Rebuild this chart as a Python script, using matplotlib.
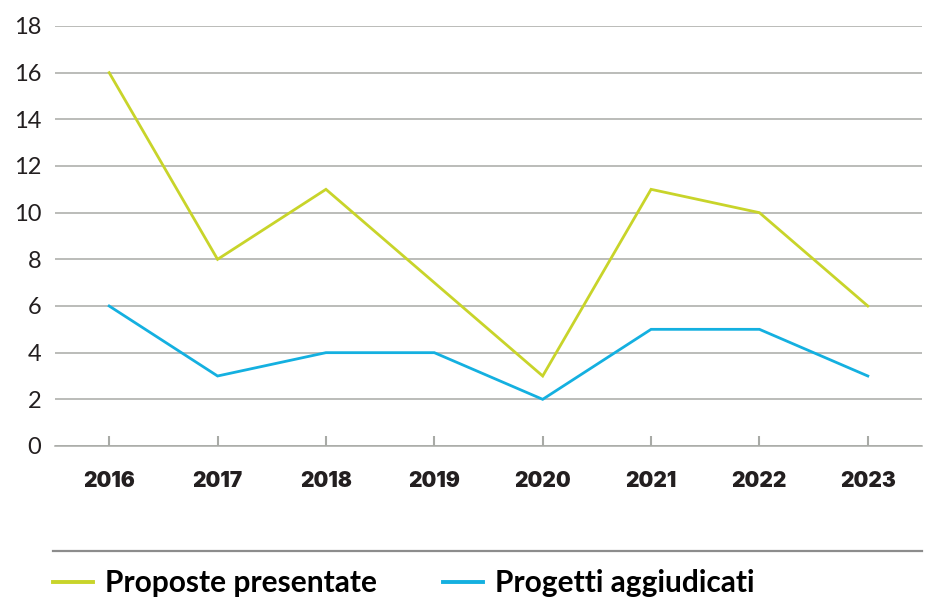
import numpy as np
import matplotlib.pyplot as plt
from matplotlib.lines import Line2D

years = ['2016', '2017', '2018', '2019', '2020', '2021', '2022', '2023']
proposte = [16, 8, 11, 7, 3, 11, 10, 6]
progetti = [6, 3, 4, 4, 2, 5, 5, 3]
series_labels = ['Proposte presentate', 'Progetti aggiudicati']
y_ticks = [0, 2, 4, 6, 8, 10, 12, 14, 16, 18]

green = '#c8d42a'
blue = '#14b0e0'
grid_grey = '#a8aaa6'
text_dark = '#231f20'

plt.rcParams['font.family'] = ['Lato', 'DejaVu Sans']

fig = plt.figure(figsize=(9.28, 5.99), dpi=100)
ax = fig.add_axes([55/928, 1 - 446/599, (922-55)/928, (446-26)/599])

x = np.arange(len(years))
ax.plot(x, proposte, color=green, linewidth=2.0, solid_joinstyle='miter')
ax.plot(x, progetti, color=blue, linewidth=2.0, solid_joinstyle='miter')

ax.set_xlim(-0.5, len(years) - 0.5)
ax.set_ylim(0, 18)
ax.set_yticks(y_ticks)
ax.set_yticklabels([str(v) for v in y_ticks], fontsize=17, color=text_dark)
ax.set_xticks(x)
ax.set_xticklabels(years, fontsize=15, fontweight='black', color=text_dark,
                   family=['Inter', 'Lato', 'DejaVu Sans'])

ax.yaxis.grid(True, color=grid_grey, linewidth=1.1)
ax.set_axisbelow(True)
for side in ['top', 'right', 'left']:
    ax.spines[side].set_visible(False)
ax.spines['bottom'].set_color(grid_grey)
ax.spines['bottom'].set_linewidth(1.1)
ax.tick_params(axis='y', length=0, pad=10)
ax.tick_params(axis='x', direction='in', length=7.5, width=1.5, color=grid_grey, pad=18)

# separator line above legend
fig.add_artist(Line2D([53/928, 922/928], [1 - 551/599, 1 - 551/599],
                      color='#8c8c8c', linewidth=1.6))

handles = [Line2D([], [], color=green, linewidth=2.8),
           Line2D([], [], color=blue, linewidth=2.8)]
fig.legend(handles, series_labels, loc='center left', ncol=2,
           bbox_to_anchor=(53/928, 1 - 583/599), frameon=False,
           borderpad=0, borderaxespad=0, handlelength=1.35, handletextpad=0.4,
           columnspacing=2.2,
           prop={'family': ['Lato', 'DejaVu Sans'], 'weight': 'bold', 'size': 21.5})

fig.savefig('out.png', dpi=100)
